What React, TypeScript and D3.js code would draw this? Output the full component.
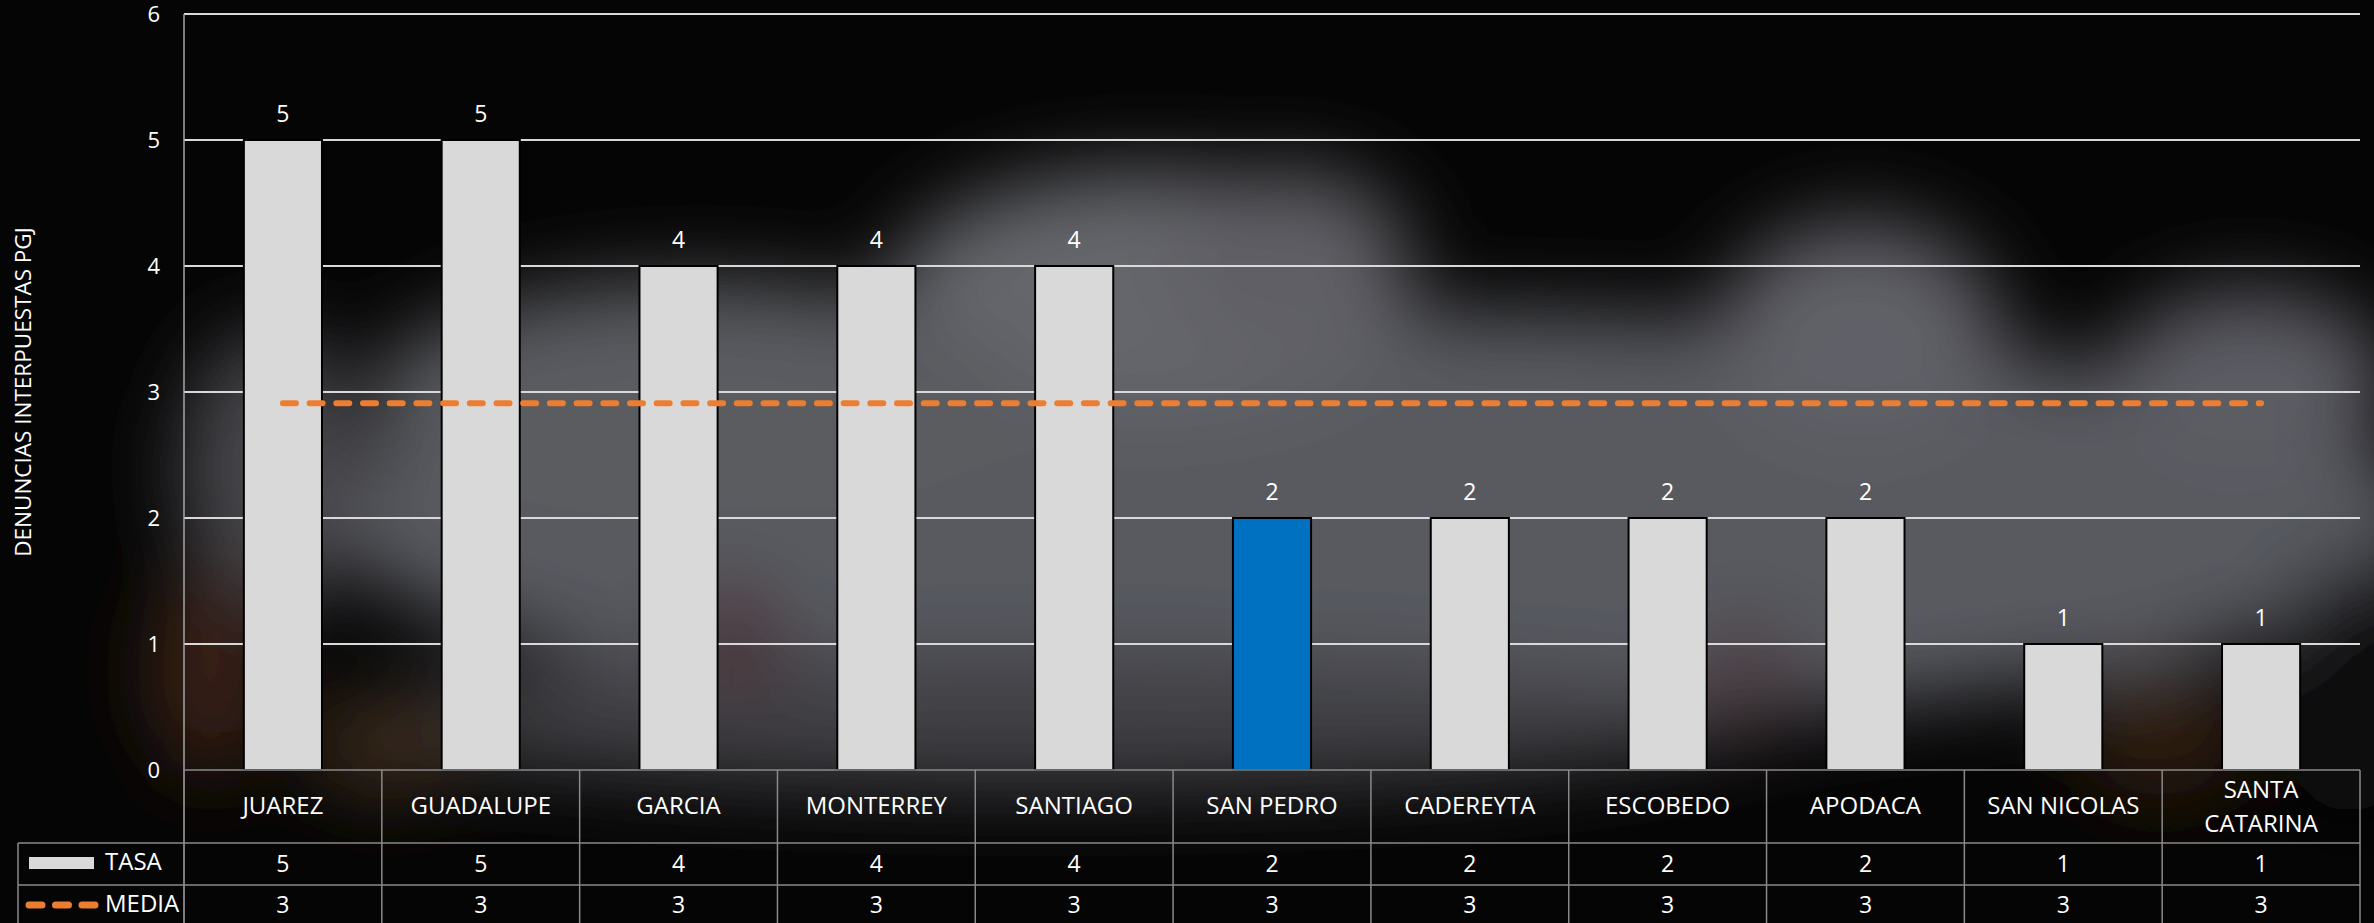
import React from "react";
import * as d3 from "d3";

const categories: string[][] = [
  ["JUAREZ"],
  ["GUADALUPE"],
  ["GARCIA"],
  ["MONTERREY"],
  ["SANTIAGO"],
  ["SAN PEDRO"],
  ["CADEREYTA"],
  ["ESCOBEDO"],
  ["APODACA"],
  ["SAN NICOLAS"],
  ["SANTA", "CATARINA"],
];
const tasaValues: number[] = [5, 5, 4, 4, 4, 2, 2, 2, 2, 1, 1];
const mediaValues: number[] = [2.91, 2.91, 2.91, 2.91, 2.91, 2.91, 2.91, 2.91, 2.91, 2.91, 2.91];
const yTicks: number[] = [0, 1, 2, 3, 4, 5, 6];
const highlighted: string[] = ["SAN PEDRO"];
const seriesNames: string[] = ["TASA", "MEDIA"];
const yTitle = "DENUNCIAS INTERPUESTAS PGJ";

const W = 2374;
const H = 923;
const plotLeft = 184;
const plotRight = 2360;
const plotTop = 14;
const plotBottom = 770;
const row1 = 843;
const row2 = 885;
const tableLeft = 18;

const FONT = "'Open Sans', 'Noto Sans', sans-serif";
const GREY_FILL = "#d9d9d9";
const BLUE = "#0070c0";
const ORANGE = "#ed7d31";
const TABLE_LINE = "#8a8a8a";

export default function App() {
  const keys = categories.map((c) => c.join(" "));
  const x = d3
    .scaleBand<string>()
    .domain(keys)
    .range([plotLeft, plotRight])
    .paddingInner(0.6)
    .paddingOuter(0.3);
  const cell = d3.scaleBand<string>().domain(keys).range([plotLeft, plotRight]).padding(0);
  const y = d3.scaleLinear().domain([0, 6]).range([plotBottom, plotTop]);
  const fmt = d3.format(".0f");

  const mediaLine = d3
    .line<number>()
    .x((_, i) => (x(keys[i]) as number) + x.bandwidth() / 2)
    .y((d) => y(d));

  // background photo approximation (blurred blobs)
  const blobs = [
    { cx: 1380, cy: 520, rx: 1050, ry: 210, c: "#595a61" },
    { cx: 1150, cy: 290, rx: 260, ry: 120, c: "#65666c" },
    { cx: 1290, cy: 260, rx: 120, ry: 90, c: "#5e5f65" },
    { cx: 1860, cy: 330, rx: 140, ry: 110, c: "#606168" },
    { cx: 700, cy: 400, rx: 330, ry: 120, c: "#5a5b61" },
    { cx: 2250, cy: 380, rx: 140, ry: 90, c: "#5b5c63" },
    { cx: 270, cy: 470, rx: 90, ry: 140, c: "#46464c" },
    { cx: 1050, cy: 720, rx: 700, ry: 70, c: "#3f3f45" },
    { cx: 2350, cy: 690, rx: 70, ry: 130, c: "#070707" },
    { cx: 210, cy: 670, rx: 60, ry: 110, c: "#3a2315" },
    { cx: 390, cy: 745, rx: 90, ry: 50, c: "#3b2a1f" },
    { cx: 730, cy: 640, rx: 50, ry: 60, c: "#4a3238" },
    { cx: 1745, cy: 680, rx: 60, ry: 60, c: "#4c3c42" },
    { cx: 2160, cy: 730, rx: 90, ry: 70, c: "#2e1a0e" },
  ];

  return (
    <svg
      width={W}
      height={H}
      viewBox={`0 0 ${W} ${H}`}
      style={{ position: "absolute", left: 0, top: 0, display: "block" }}
      fontFamily={FONT}
    >
      <defs>
        <filter id="bgblur" filterUnits="userSpaceOnUse" x={-200} y={-200} width={W + 400} height={H + 400}>
          <feGaussianBlur stdDeviation="40" />
        </filter>
      </defs>
      <rect x={0} y={0} width={W} height={H} fill="#050505" />
      <g filter="url(#bgblur)">
        {blobs.map((b, i) => (
          <ellipse key={i} cx={b.cx} cy={b.cy} rx={b.rx} ry={b.ry} fill={b.c} />
        ))}
      </g>

      {/* gridlines */}
      {yTicks
        .filter((t) => t > 0)
        .map((t) => (
          <line key={t} x1={plotLeft} x2={plotRight} y1={y(t)} y2={y(t)} stroke="#d9d9d9" strokeWidth={2} />
        ))}

      {/* tick labels */}
      {yTicks.map((t) => (
        <text key={t} x={160} y={y(t) + 8} fill="#fff" fontSize={22} textAnchor="end">
          {t}
        </text>
      ))}

      {/* axis title */}
      <text
        transform={`translate(31, ${(plotTop + plotBottom) / 2}) rotate(-90)`}
        fill="#fff"
        fontSize={22.5}
        textAnchor="middle"
      >
        {yTitle}
      </text>

      {/* bars */}
      {tasaValues.map((v, i) => (
        <rect
          key={keys[i]}
          x={(x(keys[i]) as number) + 0.5}
          y={y(v)}
          width={x.bandwidth() - 1}
          height={y(0) - y(v)}
          fill={highlighted.includes(keys[i]) ? BLUE : GREY_FILL}
          stroke="#000"
          strokeWidth={2}
        />
      ))}

      {/* data labels */}
      {tasaValues.map((v, i) => (
        <text
          key={keys[i]}
          x={(x(keys[i]) as number) + x.bandwidth() / 2}
          y={y(v) - 18}
          fill="#fff"
          fontSize={23}
          textAnchor="middle"
        >
          {v}
        </text>
      ))}

      {/* media line */}
      <path
        d={mediaLine(mediaValues) || ""}
        fill="none"
        stroke={ORANGE}
        strokeWidth={6}
        strokeDasharray="13 13.7"
        strokeLinecap="round"
      />

      {/* left axis line */}
      <line x1={plotLeft} x2={plotLeft} y1={plotTop} y2={H} stroke="#a6a6a6" strokeWidth={1.5} />

      {/* table */}
      <g stroke={TABLE_LINE} strokeWidth={1.5}>
        <line x1={plotLeft} x2={plotRight} y1={plotBottom} y2={plotBottom} />
        <line x1={tableLeft} x2={plotRight} y1={row1} y2={row1} />
        <line x1={tableLeft} x2={plotRight} y1={row2} y2={row2} />
        <line x1={tableLeft} x2={tableLeft} y1={row1} y2={H} />
        {keys.map((k) => (
          <line
            key={k}
            x1={(cell(k) as number) + cell.bandwidth()}
            x2={(cell(k) as number) + cell.bandwidth()}
            y1={plotBottom}
            y2={H}
          />
        ))}
      </g>

      {/* category labels */}
      {categories.map((c, i) => {
        const cx = (cell(keys[i]) as number) + cell.bandwidth() / 2;
        const base = c.length === 1 ? [814] : [798, 832];
        return (
          <text key={keys[i]} fill="#fff" fontSize={24} textAnchor="middle">
            {c.map((ln, j) => (
              <tspan key={j} x={cx} y={base[j]}>
                {ln}
              </tspan>
            ))}
          </text>
        );
      })}

      {/* table values */}
      {tasaValues.map((v, i) => (
        <text
          key={"t" + i}
          x={(cell(keys[i]) as number) + cell.bandwidth() / 2}
          y={872}
          fill="#fff"
          fontSize={23}
          textAnchor="middle"
        >
          {fmt(v)}
        </text>
      ))}
      {mediaValues.map((v, i) => (
        <text
          key={"m" + i}
          x={(cell(keys[i]) as number) + cell.bandwidth() / 2}
          y={913}
          fill="#fff"
          fontSize={23}
          textAnchor="middle"
        >
          {fmt(v)}
        </text>
      ))}

      {/* legend keys */}
      <rect x={29} y={857} width={65} height={12} fill={GREY_FILL} />
      <text x={105} y={870} fill="#fff" fontSize={24}>
        {seriesNames[0]}
      </text>
      <line
        x1={29}
        x2={95}
        y1={905}
        y2={905}
        stroke={ORANGE}
        strokeWidth={7}
        strokeDasharray="13 13.5"
        strokeLinecap="round"
      />
      <text x={105} y={912} fill="#fff" fontSize={24}>
        {seriesNames[1]}
      </text>
    </svg>
  );
}
